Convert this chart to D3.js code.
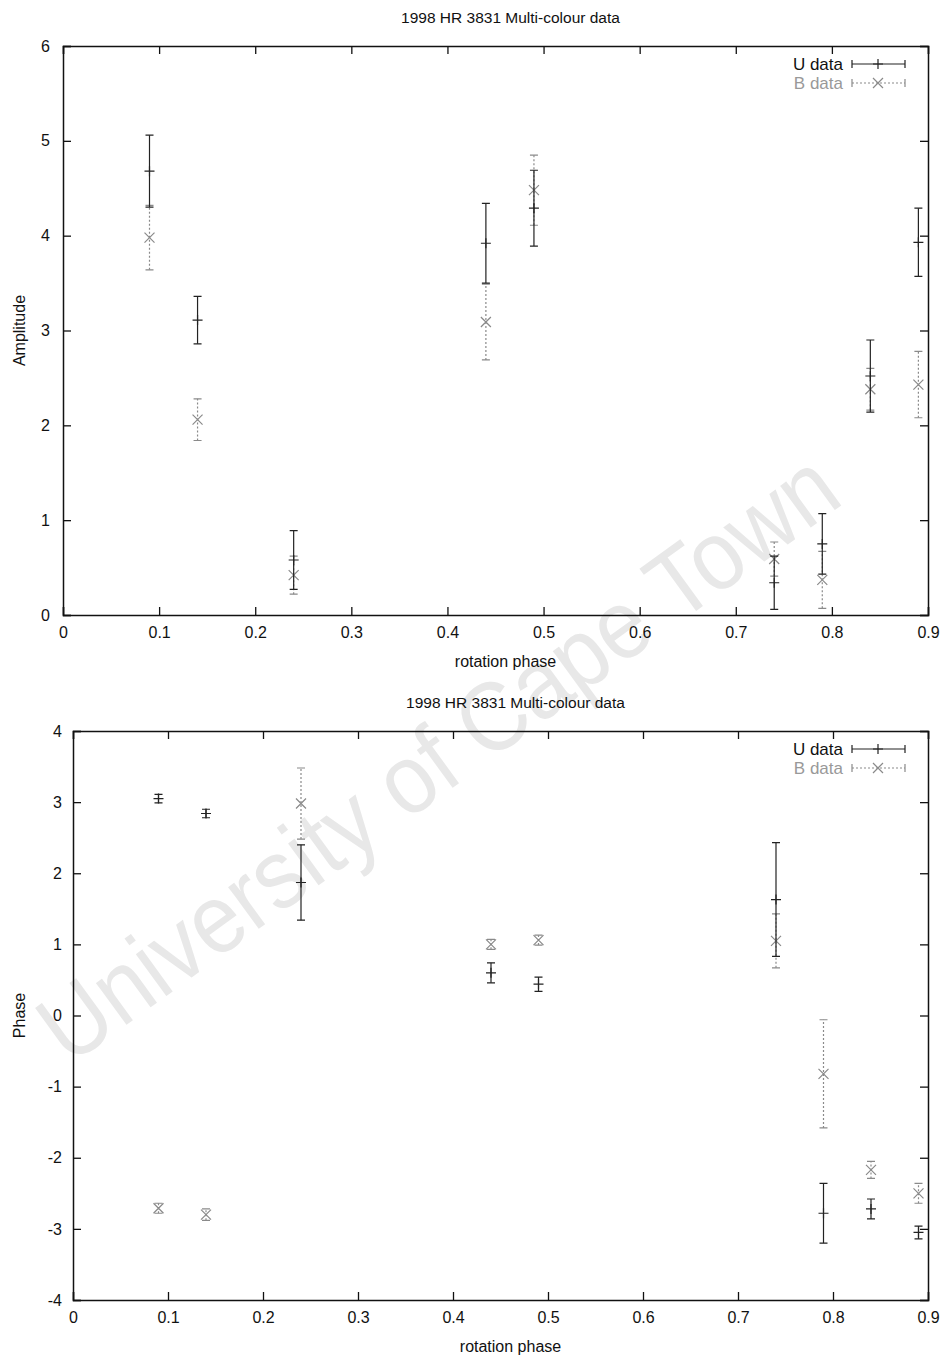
<!DOCTYPE html>
<html>
<head>
  <meta charset="UTF-8">
  <style>
    body {
      background-color: #ffffff;
      margin: 0;
      font-family: "Liberation Sans", Arial, sans-serif;
    }
    svg {
      display: block;
    }
    .tick text {
      font-size: 16px;
      fill: #111;
    }
  </style>
</head>
<body>

<svg width="943" height="1360"></svg>

<script src="https://d3js.org/d3.v7.min.js"></script>

<script>
// rotation phases shared by both panels
let phases = [0.09, 0.14, 0.24, 0.44, 0.49, 0.74, 0.79, 0.84, 0.89];

// amplitude panel
let ampU    = [4.68, 3.11, 0.58, 3.92, 4.29, 0.34, 0.75, 2.52, 3.93];
let ampUErr = [0.38, 0.25, 0.31, 0.42, 0.40, 0.28, 0.32, 0.38, 0.36];
let ampB    = [3.98, 2.06, 0.42, 3.09, 4.48, 0.59, 0.37, 2.38, 2.43];
let ampBErr = [0.34, 0.22, 0.20, 0.40, 0.37, 0.18, 0.30, 0.22, 0.35];

// phase panel
let phaseU    = [3.05, 2.84, 1.87, 0.60, 0.44, 1.63, -2.78, -2.72, -3.05];
let phaseUErr = [0.06, 0.06, 0.53, 0.14, 0.10, 0.80, 0.42, 0.14, 0.09];
let phaseB    = [-2.71, -2.80, 2.98, 1.00, 1.06, 1.05, -0.82, -2.17, -2.50];
let phaseBErr = [0.07, 0.08, 0.50, 0.07, 0.07, 0.38, 0.76, 0.12, 0.14];

let xTicks = [0, 0.1, 0.2, 0.3, 0.4, 0.5, 0.6, 0.7, 0.8, 0.9];
let xTickLabels = ["0", "0.1", "0.2", "0.3", "0.4", "0.5", "0.6", "0.7", "0.8", "0.9"];
let ampTicks = [0, 1, 2, 3, 4, 5, 6];
let phaseTicks = [-4, -3, -2, -1, 0, 1, 2, 3, 4];

let title = "1998 HR 3831 Multi-colour data";
let seriesNames = ["U data", "B data"];

let svg = d3.select("svg");

// faint watermark across the page
svg.append("text")
    .attr("x", 440)
    .attr("y", 790)
    .attr("text-anchor", "middle")
    .attr("transform", "rotate(-36, 440, 760)")
    .attr("font-size", 98)
    .attr("textLength", 960)
    .attr("lengthAdjust", "spacingAndGlyphs")
    .attr("fill", "#e8e8e8")
    .text("University of Cape Town");

let uStyle = {stroke: "#222", dash: null, marker: "plus", text: "#111"};
let bStyle = {stroke: "#8a8a8a", dash: "2,2", marker: "cross", text: "#999"};

function drawPanel(cfg) {
  let x = d3.scaleLinear().domain([0, 0.9]).range([cfg.left, cfg.right]);
  let y = d3.scaleLinear().domain(cfg.yDomain).range([cfg.bottom, cfg.top]);
  let g = svg.append("g");

  g.append("text")
      .attr("x", (cfg.left + cfg.right) / 2 + 15)
      .attr("y", cfg.top - 23)
      .attr("text-anchor", "middle")
      .attr("font-size", 15.5)
      .attr("fill", "#111")
      .text(title);

  g.append("g")
      .attr("transform", "translate(0," + cfg.bottom + ")")
      .call(d3.axisBottom(x).tickValues(xTicks).tickSize(-8).tickPadding(12)
        .tickFormat((d, i) => xTickLabels[i]));
  g.append("g")
      .attr("transform", "translate(0," + cfg.top + ")")
      .call(d3.axisTop(x).tickValues(xTicks).tickSize(-8).tickFormat(""));
  g.append("g")
      .attr("transform", "translate(" + cfg.left + ",0)")
      .call(d3.axisLeft(y).tickValues(cfg.yTicks).tickSize(-8).tickPadding(cfg.yPad)
        .tickFormat(d => String(d)));
  g.append("g")
      .attr("transform", "translate(" + cfg.right + ",0)")
      .call(d3.axisRight(y).tickValues(cfg.yTicks).tickSize(-8).tickFormat(""));

  g.selectAll(".domain").attr("stroke", "#111").attr("stroke-width", 1.5);
  g.selectAll(".tick line").attr("stroke", "#111").attr("stroke-width", 1.3);

  g.append("text")
      .attr("transform", "translate(25," + ((cfg.top + cfg.bottom) / 2) + ") rotate(-90)")
      .attr("text-anchor", "middle")
      .attr("font-size", 16)
      .attr("fill", "#111")
      .text(cfg.yLabel);

  g.append("text")
      .attr("x", (cfg.left + cfg.right) / 2 + 10)
      .attr("y", cfg.bottom + 52)
      .attr("text-anchor", "middle")
      .attr("font-size", 16)
      .attr("fill", "#111")
      .text("rotation phase");

  function marker(sel, style, cx, cy) {
    let s = 5;
    if (style.marker === "plus") {
      sel.append("path").attr("d", `M${cx - s},${cy}H${cx + s}M${cx},${cy - s}V${cy + s}`);
    } else {
      sel.append("path").attr("d", `M${cx - s},${cy - s}L${cx + s},${cy + s}M${cx - s},${cy + s}L${cx + s},${cy - s}`);
    }
  }

  function errorSeries(vals, errs, style) {
    let s = g.append("g")
        .attr("stroke", style.stroke)
        .attr("stroke-width", 1.2)
        .attr("fill", "none");
    phases.forEach((p, i) => {
      let cx = x(p), y0 = y(vals[i] - errs[i]), y1 = y(vals[i] + errs[i]);
      let bar = s.append("g");
      bar.append("path")
          .attr("d", `M${cx},${y0}V${y1}`)
          .attr("stroke-dasharray", style.dash);
      bar.append("path")
          .attr("d", `M${cx - 4},${y0}H${cx + 4}M${cx - 4},${y1}H${cx + 4}`);
      marker(bar, style, cx, y(vals[i]));
    });
  }

  errorSeries(cfg.bVals, cfg.bErrs, bStyle);
  errorSeries(cfg.uVals, cfg.uErrs, uStyle);

  // legend
  [uStyle, bStyle].forEach((st, i) => {
    let ly = cfg.top + 18 + i * 19;
    g.append("text")
        .attr("x", 843)
        .attr("y", ly + 6)
        .attr("text-anchor", "end")
        .attr("font-size", 17)
        .attr("fill", st.text)
        .text(seriesNames[i]);
    let lg = g.append("g")
        .attr("stroke", st.stroke)
        .attr("stroke-width", 1.2)
        .attr("fill", "none");
    lg.append("path").attr("d", `M852,${ly}H905`).attr("stroke-dasharray", st.dash);
    lg.append("path").attr("d", `M852,${ly - 4}V${ly + 4}M905,${ly - 4}V${ly + 4}`);
    marker(lg, st, 878, ly);
  });
}

drawPanel({
  left: 63, right: 928, top: 46, bottom: 615,
  yDomain: [0, 6], yTicks: ampTicks, yPad: 13,
  yLabel: "Amplitude",
  uVals: ampU, uErrs: ampUErr, bVals: ampB, bErrs: ampBErr
});

drawPanel({
  left: 73, right: 928, top: 731, bottom: 1300,
  yDomain: [-4, 4], yTicks: phaseTicks, yPad: 11,
  yLabel: "Phase",
  uVals: phaseU, uErrs: phaseUErr, bVals: phaseB, bErrs: phaseBErr
});
</script>

</body>
</html>
